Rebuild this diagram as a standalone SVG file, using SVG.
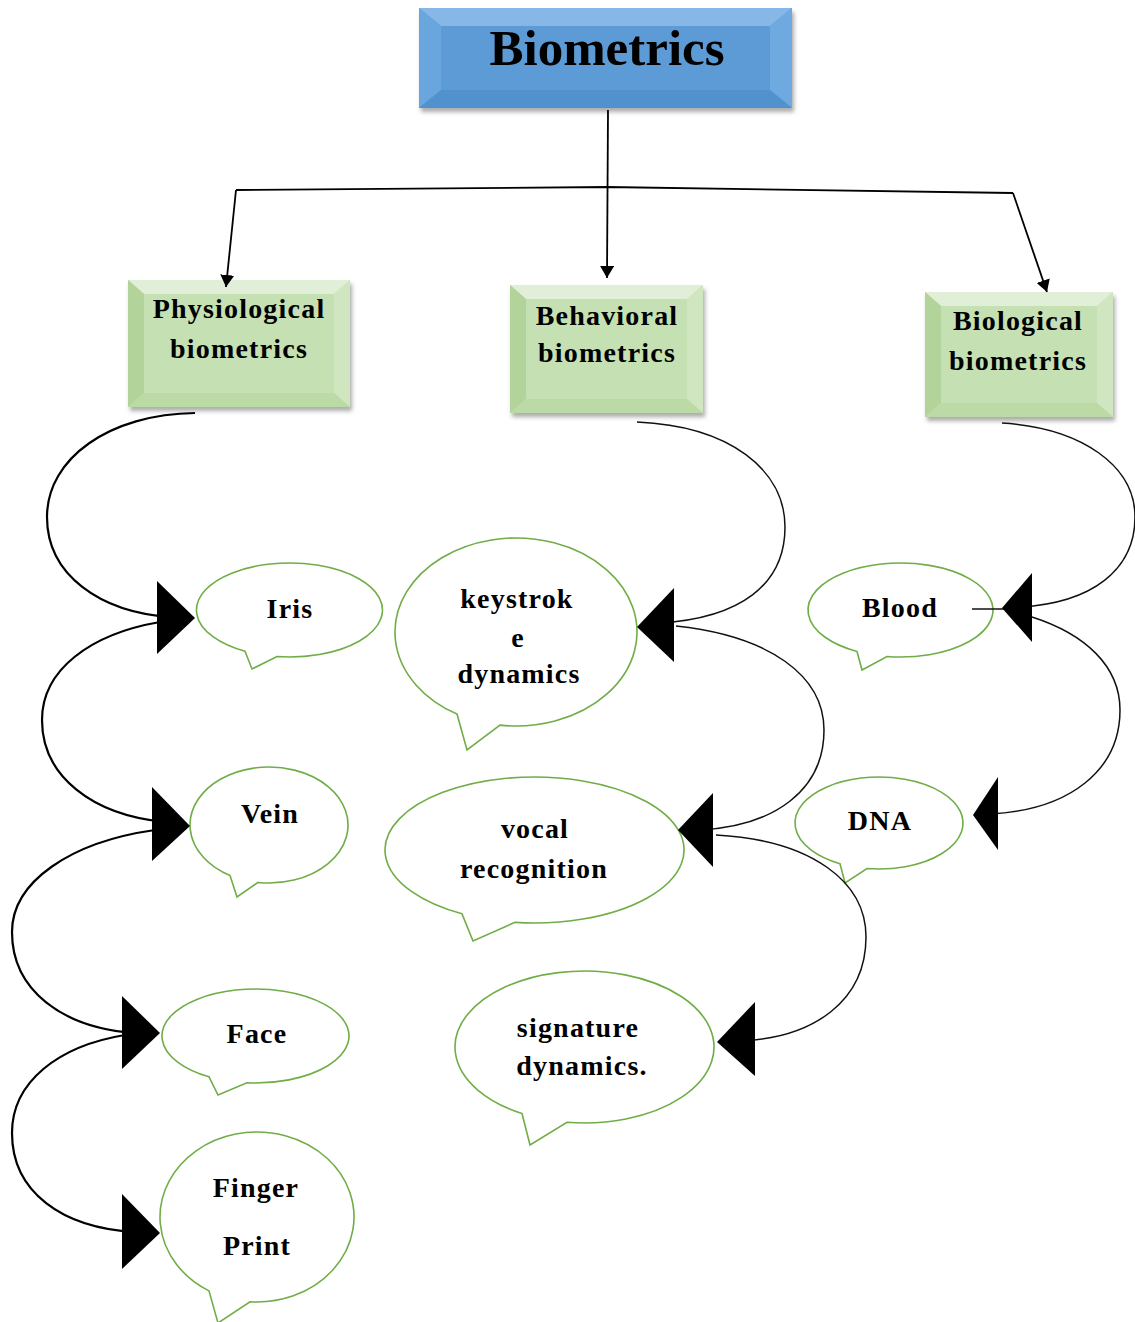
<svg xmlns="http://www.w3.org/2000/svg" width="1135" height="1322" viewBox="0 0 1135 1322">
  <style>
    .lbl { font-family: "Liberation Serif", "Times New Roman", serif; font-weight: bold; fill: #000; text-anchor: middle; }
    .box-t { font-size: 28px; letter-spacing: 1.2px; }
    .bub-t { font-size: 28px; letter-spacing: 1.2px; }
    .bubble { fill: #fff; stroke: #70ad47; stroke-width: 1.6; stroke-linejoin: miter; }
    .g-mid { fill: #c5e0b2; }
    .g-top { fill: #e2efd8; }
    .g-left { fill: #b2d49a; }
    .g-right { fill: #d0e6c0; }
    .g-bot { fill: #bcdaa5; }
    .b-mid { fill: #5b9bd5; }
    .b-top { fill: #86b7e6; }
    .b-left { fill: #6aa6de; }
    .b-right { fill: #6ea9df; }
    .b-bot { fill: #5191cd; }
    .tree { fill: none; stroke: #000; stroke-width: 1.8; }
    .flow-l { fill: none; stroke: #000; stroke-width: 2.2; }
    .flow-r { fill: none; stroke: #111; stroke-width: 1.5; }
    .head { fill: #000; }
  </style>
  <defs>
    <filter id="shadow" x="-10%" y="-10%" width="125%" height="130%">
      <feDropShadow dx="2" dy="4" stdDeviation="2" flood-color="#666" flood-opacity="0.55"/>
    </filter>
    <marker id="arr" viewBox="0 0 12 14" refX="12" refY="7" markerWidth="12" markerHeight="14" markerUnits="userSpaceOnUse" orient="auto">
      <path d="M0,0 L12,7 L0,14 Z" fill="#000"/>
    </marker>
  </defs>

  <!-- title box -->
  <g id="biometrics">
    <g filter="url(#shadow)">
      <rect class="b-mid" x="419" y="8" width="373" height="100"/>
      <polygon class="b-top" points="419,8 792,8 770,26 441,26"/>
      <polygon class="b-left" points="419,8 441,26 441,90 419,108"/>
      <polygon class="b-right" points="792,8 792,108 770,90 770,26"/>
      <polygon class="b-bot" points="419,108 441,90 770,90 792,108"/>
    </g>
    <text class="lbl" x="607" y="65" font-size="51">Biometrics</text>
  </g>

  <!-- category boxes -->
  <g id="physiological">
    <g filter="url(#shadow)">
      <rect class="g-mid" x="128" y="280" width="222" height="127"/>
      <polygon class="g-top" points="128,280 350,280 334,294 144,294"/>
      <polygon class="g-left" points="128,280 144,294 144,393 128,407"/>
      <polygon class="g-right" points="350,280 350,407 334,393 334,294"/>
      <polygon class="g-bot" points="128,407 144,393 334,393 350,407"/>
    </g>
    <text class="lbl box-t" x="239" y="318">Physiological</text>
    <text class="lbl box-t" x="239" y="358">biometrics</text>
  </g>

  <g id="behavioral">
    <g filter="url(#shadow)">
      <rect class="g-mid" x="510" y="285" width="193" height="128"/>
      <polygon class="g-top" points="510,285 703,285 687,299 526,299"/>
      <polygon class="g-left" points="510,285 526,299 526,399 510,413"/>
      <polygon class="g-right" points="703,285 703,413 687,399 687,299"/>
      <polygon class="g-bot" points="510,413 526,399 687,399 703,413"/>
    </g>
    <text class="lbl box-t" x="607" y="325">Behavioral</text>
    <text class="lbl box-t" x="607" y="362">biometrics</text>
  </g>

  <g id="biological">
    <g filter="url(#shadow)">
      <rect class="g-mid" x="925" y="292" width="188" height="125"/>
      <polygon class="g-top" points="925,292 1113,292 1097,306 941,306"/>
      <polygon class="g-left" points="925,292 941,306 941,403 925,417"/>
      <polygon class="g-right" points="1113,292 1113,417 1097,403 1097,306"/>
      <polygon class="g-bot" points="925,417 941,403 1097,403 1113,417"/>
    </g>
    <text class="lbl box-t" x="1018" y="330">Biological</text>
    <text class="lbl box-t" x="1018" y="370">biometrics</text>
  </g>

  <!-- physiological traits -->
  <g id="iris">
    <path class="bubble" d="M245,651.27 L252,669 L277,656.57 A93,47 0 1 0 245,651.27 Z"/>
    <text class="lbl bub-t" x="290" y="618">Iris</text>
  </g>
  <g id="vein">
    <path class="bubble" d="M230,875.44 L237,897 L258,882.44 A79,58 0 1 0 230,875.44 Z"/>
    <text class="lbl bub-t" x="270" y="823">Vein</text>
  </g>
  <g id="face">
    <path class="bubble" d="M209,1076.78 L218,1095 L247,1082.81 A93.5,47 0 1 0 209,1076.78 Z"/>
    <text class="lbl bub-t" x="257" y="1043">Face</text>
  </g>
  <g id="finger-print">
    <path class="bubble" d="M209,1290.86 L218,1323 L250,1301.78 A97,85 0 1 0 209,1290.86 Z"/>
    <text class="lbl bub-t" x="256" y="1197">Finger</text>
    <text class="lbl bub-t" x="257" y="1255">Print</text>
  </g>

  <!-- behavioral traits -->
  <g id="keystroke">
    <path class="bubble" d="M457,714.07 L467,750 L500,725.17 A121,94 0 1 0 457,714.07 Z"/>
    <text class="lbl bub-t" x="517" y="608">keystrok</text>
    <text class="lbl bub-t" x="518" y="647">e</text>
    <text class="lbl bub-t" x="519" y="683">dynamics</text>
  </g>
  <g id="vocal">
    <path class="bubble" d="M462,913.84 L473,941 L515,922.38 A149.5,73 0 1 0 462,913.84 Z"/>
    <text class="lbl bub-t" x="535" y="838">vocal</text>
    <text class="lbl bub-t" x="534" y="878">recognition</text>
  </g>
  <g id="signature">
    <path class="bubble" d="M522,1113.56 L530,1145 L567,1122.30 A129.5,76 0 1 0 522,1113.56 Z"/>
    <text class="lbl bub-t" x="578" y="1037">signature</text>
    <text class="lbl bub-t" x="582" y="1075">dynamics.</text>
  </g>

  <!-- biological traits -->
  <g id="blood">
    <path class="bubble" d="M857,651.48 L862,670 L887,656.50 A92.5,47 0 1 0 857,651.48 Z"/>
    <text class="lbl bub-t" x="900" y="617">Blood</text>
  </g>
  <g id="dna">
    <path class="bubble" d="M840,863.74 L845,883 L867,868.53 A84,46 0 1 0 840,863.74 Z"/>
    <text class="lbl bub-t" x="880" y="830">DNA</text>
  </g>

  <!-- connectors -->
  <g id="connectors">
    <!-- tree from the title box to the three categories -->
    <polyline class="tree" points="236,190 607,187 1013,193"/>
    <line class="tree" x1="608" y1="110" x2="607" y2="278" marker-end="url(#arr)"/>
    <line class="tree" x1="236" y1="190" x2="226" y2="287" marker-end="url(#arr)"/>
    <line class="tree" x1="1013" y1="193" x2="1047" y2="292" marker-end="url(#arr)"/>

    <!-- physiological chain -->
    <path class="flow-l" d="M195,413 C110,414 47,458 47,517 C47,575 100,612 170,617"/>
    <path class="flow-l" d="M160,622 C90,634 42,670 42,720 C42,776 92,815 165,822"/>
    <path class="flow-l" d="M155,830 C70,842 12,882 12,932 C12,990 62,1028 135,1033"/>
    <path class="flow-l" d="M125,1035 C58,1046 12,1082 12,1133 C12,1192 62,1228 135,1232"/>
    <polygon class="head" points="157,581 195,618 157,654"/>
    <polygon class="head" points="152,787 190,826 152,861"/>
    <polygon class="head" points="122,996 160,1033 122,1069"/>
    <polygon class="head" points="122,1194 160,1233 122,1269"/>

    <!-- behavioral chain -->
    <path class="flow-r" d="M637,422 C730,426 785,470 785,527 C785,585 740,618 660,623"/>
    <path class="flow-r" d="M676,626 C770,636 824,676 824,730 C824,790 775,826 700,830"/>
    <path class="flow-r" d="M716,835 C812,840 866,882 866,937 C866,1000 815,1038 740,1041"/>
    <polygon class="head" points="674,588 637,627 674,662"/>
    <polygon class="head" points="713,793 678,830 713,867"/>
    <polygon class="head" points="755,1002 717,1042 755,1076"/>

    <!-- biological chain -->
    <path class="flow-r" d="M1002,423 C1082,428 1135,466 1135,517 C1135,570 1092,603 1020,607"/>
    <line class="flow-r" x1="972" y1="609" x2="1005" y2="609"/>
    <path class="flow-r" d="M1032,617 C1085,634 1120,666 1120,710 C1120,770 1070,810 990,814"/>
    <polygon class="head" points="1032,573 1002,608 1032,642"/>
    <polygon class="head" points="998,777 973,815 998,850"/>
  </g>
</svg>
